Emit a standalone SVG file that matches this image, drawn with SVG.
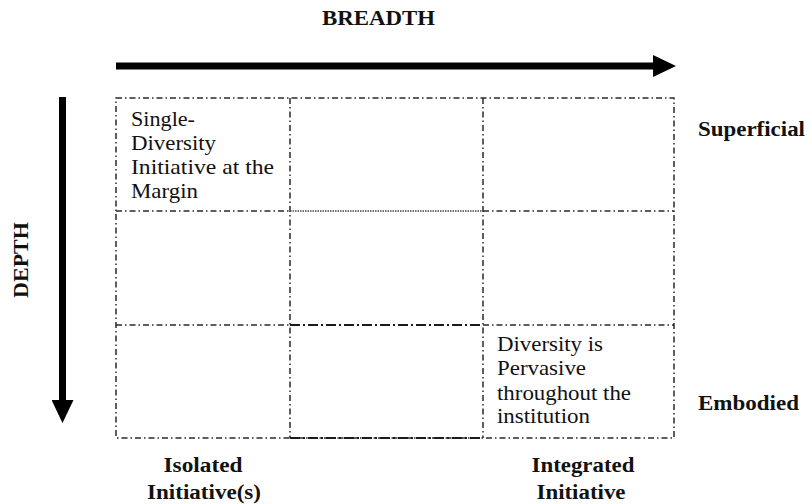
<svg xmlns="http://www.w3.org/2000/svg" width="811" height="504" viewBox="0 0 811 504">
<style>
.bg{fill:#fff}
.grid{fill:none;stroke:#2a2a2a;stroke-width:1.5;stroke-dasharray:6,3,1.5,3}
.fine{fill:none;stroke:#444;stroke-width:1.3;stroke-dasharray:1.5,1}
.long{fill:none;stroke:#1a1a1a;stroke-width:1.8;stroke-dasharray:10,3,2,3}
.t{font-family:"Liberation Serif","Times New Roman",serif;font-size:21px;fill:#111}
.b{font-family:"Liberation Serif","Times New Roman",serif;font-size:20px;font-weight:bold;fill:#111}
.shaft{stroke:#000;stroke-width:7;fill:none}
</style>
<defs>
<marker id="ah" markerUnits="userSpaceOnUse" markerWidth="23" markerHeight="22" refX="0" refY="11" orient="auto">
<path d="M0,0 L23,11 L0,22 Z" fill="#000"/>
</marker>
</defs>
<rect class="bg" width="811" height="504"/>

<g id="connectors">
<line class="shaft" x1="116" y1="66" x2="653" y2="66" marker-end="url(#ah)"/>
<line class="shaft" x1="62.5" y1="97" x2="62.5" y2="400" marker-end="url(#ah)"/>
</g>

<g id="grid">
<rect class="grid" x="116" y="98" width="558" height="340"/>
<line class="grid" x1="290" y1="98" x2="290" y2="438"/>
<line class="grid" x1="483" y1="98" x2="483" y2="438"/>
<line class="grid" x1="116" y1="211" x2="290" y2="211"/>
<line class="grid" x1="483" y1="211" x2="674" y2="211"/>
<line class="fine" x1="290" y1="211" x2="483" y2="211"/>
<line class="grid" x1="116" y1="325" x2="290" y2="325"/>
<line class="grid" x1="483" y1="325" x2="674" y2="325"/>
<line class="long" x1="290" y1="325" x2="483" y2="325"/>
<line class="long" x1="290" y1="438" x2="483" y2="438"/>
</g>

<g id="cell-single">
<text class="t" x="131" y="126" textLength="64" lengthAdjust="spacingAndGlyphs">Single-</text>
<text class="t" x="131" y="150" textLength="85" lengthAdjust="spacingAndGlyphs">Diversity</text>
<text class="t" x="131" y="174" textLength="143" lengthAdjust="spacingAndGlyphs">Initiative at the</text>
<text class="t" x="131" y="198" textLength="67" lengthAdjust="spacingAndGlyphs">Margin</text>
</g>

<g id="cell-pervasive">
<text class="t" x="497" y="351" textLength="106" lengthAdjust="spacingAndGlyphs">Diversity is</text>
<text class="t" x="497" y="375" textLength="89" lengthAdjust="spacingAndGlyphs">Pervasive</text>
<text class="t" x="497" y="400" textLength="134" lengthAdjust="spacingAndGlyphs">throughout the</text>
<text class="t" x="497" y="423" textLength="93" lengthAdjust="spacingAndGlyphs">institution</text>
</g>

<g id="label-breadth">
<text class="b" x="322" y="25" textLength="113" lengthAdjust="spacingAndGlyphs">BREADTH</text>
</g>
<g id="label-depth">
<text class="b" transform="translate(28,298) rotate(-90)" x="0" y="0" textLength="76" lengthAdjust="spacingAndGlyphs">DEPTH</text>
</g>
<g id="label-superficial">
<text class="b" x="698" y="136" textLength="107" lengthAdjust="spacingAndGlyphs">Superficial</text>
</g>
<g id="label-embodied">
<text class="b" x="698" y="410" textLength="101" lengthAdjust="spacingAndGlyphs">Embodied</text>
</g>
<g id="label-isolated">
<text class="b" x="203" y="472" text-anchor="middle" textLength="79" lengthAdjust="spacingAndGlyphs">Isolated</text>
<text class="b" x="204" y="499" text-anchor="middle" textLength="114" lengthAdjust="spacingAndGlyphs">Initiative(s)</text>
</g>
<g id="label-integrated">
<text class="b" x="583" y="472" text-anchor="middle" textLength="103" lengthAdjust="spacingAndGlyphs">Integrated</text>
<text class="b" x="581" y="499" text-anchor="middle" textLength="89" lengthAdjust="spacingAndGlyphs">Initiative</text>
</g>
</svg>
